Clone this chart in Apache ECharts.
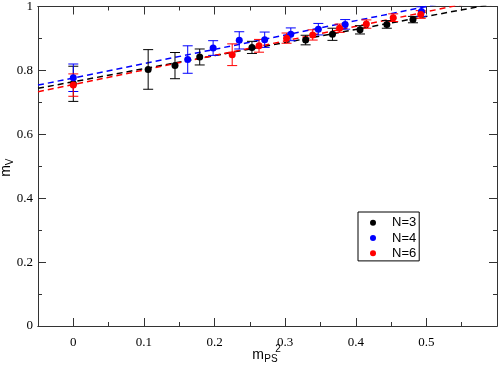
<!DOCTYPE html>
<html>
<head>
<meta charset="utf-8">
<script src="https://cdn.jsdelivr.net/npm/echarts@6/dist/echarts.min.js"></script>
<style>
  html, body { margin: 0; padding: 0; background: #fff; }
  #main { width: 498px; height: 365px; }
</style>
</head>
<body>
<div id="main"></div>
<script>
// m_PS^2 values, m_V values and errors for each N
var n3X = [0, 0.106, 0.144, 0.179, 0.253, 0.329, 0.367, 0.406, 0.444, 0.481]
var n3Y = [0.758, 0.803, 0.815, 0.842, 0.872, 0.895, 0.913, 0.927, 0.944, 0.959]
var n3Err = [0.055, 0.062, 0.041, 0.025, 0.019, 0.015, 0.019, 0.013, 0.012, 0.010]

var n4X = [0, 0.162, 0.198, 0.235, 0.271, 0.308, 0.347, 0.385, 0.493]
var n4Y = [0.777, 0.834, 0.870, 0.894, 0.896, 0.913, 0.929, 0.944, 0.984]
var n4Err = [0.043, 0.043, 0.023, 0.027, 0.024, 0.020, 0.018, 0.015, 0.015]

var n6X = [0, 0.225, 0.263, 0.302, 0.339, 0.377, 0.415, 0.453, 0.492]
var n6Y = [0.754, 0.849, 0.877, 0.901, 0.911, 0.932, 0.945, 0.965, 0.975]
var n6Err = [0.035, 0.034, 0.020, 0.016, 0.016, 0.013, 0.013, 0.012, 0.012]

// linear fits, end points
var fitX = [-0.05, 0.6]
var fitN3 = [0.744, 1.010]
var fitN4 = [0.754, 1.045]
var fitN6 = [0.733, 1.029]

var xMajor = [0, 0.1, 0.2, 0.3, 0.4, 0.5]
var xMinor = [0.05, 0.15, 0.25, 0.35, 0.45, 0.55]

function pts (xs, ys) {
  return xs.map(function (x, i) { return [x, ys[i]] })
}
function bars (xs, ys, es) {
  return xs.map(function (x, i) { return [x, ys[i] - es[i], ys[i] + es[i]] })
}

function errBar (color) {
  return function (params, api) {
    var x = api.value(0)
    var top = api.coord([x, api.value(2)])
    var bot = api.coord([x, api.value(1)])
    var w = 5
    var st = { stroke: color, lineWidth: 1 }
    return {
      type: 'group',
      children: [
        { type: 'line', shape: { x1: top[0], y1: top[1], x2: bot[0], y2: bot[1] }, style: st },
        { type: 'line', shape: { x1: top[0] - w, y1: top[1], x2: top[0] + w, y2: top[1] }, style: st },
        { type: 'line', shape: { x1: bot[0] - w, y1: bot[1], x2: bot[0] + w, y2: bot[1] }, style: st }
      ]
    }
  }
}

var frame = { show: true, onZero: false, lineStyle: { color: '#333', width: 1 } }
var serif = 'Liberation Serif'

function xAx (pos, ticks, len, labels) {
  return {
    type: 'value',
    position: pos,
    min: -0.05,
    max: 0.6,
    axisLine: frame,
    axisTick: { show: true, inside: true, length: len, customValues: ticks, lineStyle: { color: '#333' } },
    axisLabel: labels
      ? { show: true, customValues: xMajor, margin: 10, color: '#000', fontFamily: serif, fontSize: 13 }
      : { show: false },
    splitLine: { show: false }
  }
}
function yAx (pos, labels) {
  return {
    type: 'value',
    position: pos,
    min: 0,
    max: 1,
    interval: 0.2,
    axisLine: frame,
    axisTick: { show: true, inside: true, length: 8, lineStyle: { color: '#333' } },
    minorTick: { show: true, splitNumber: 2, length: 4, lineStyle: { color: '#333' } },
    axisLabel: labels
      ? { show: true, margin: 5, color: '#000', fontFamily: serif, fontSize: 13 }
      : { show: false },
    splitLine: { show: false }
  }
}

function fitLine (ys, color) {
  return {
    type: 'line',
    data: pts(fitX, ys),
    showSymbol: false,
    clip: true,
    silent: true,
    lineStyle: { color: color, width: 1.5, type: [6, 4] },
    z: 2
  }
}
function errSeries (xs, ys, es, color) {
  return {
    type: 'custom',
    renderItem: errBar(color),
    data: bars(xs, ys, es),
    encode: { x: 0, y: [1, 2] },
    silent: true,
    z: 3
  }
}
function ptSeries (name, xs, ys, color) {
  return {
    name: name,
    type: 'scatter',
    data: pts(xs, ys),
    symbol: 'circle',
    symbolSize: 7,
    itemStyle: { color: color, opacity: 1 },
    z: 4
  }
}

var chart = echarts.init(document.getElementById('main'))
chart.setOption({
  animation: false,
  backgroundColor: '#fff',
  grid: { left: 38, right: 1, top: 5, bottom: 39, containLabel: false },
  xAxis: [
    xAx('bottom', xMajor, 8, true),
    xAx('bottom', xMinor, 4, false),
    xAx('top', xMajor, 8, false),
    xAx('top', xMinor, 4, false)
  ],
  yAxis: [yAx('left', true), yAx('right', false)],
  legend: {
    orient: 'vertical',
    left: 358,
    top: 212,
    data: ['N=3', 'N=4', 'N=6'],
    icon: 'circle',
    itemWidth: 6,
    itemHeight: 6,
    itemGap: 0,
    padding: [3, 3, 0, 12],
    borderColor: '#000',
    borderWidth: 1,
    textStyle: { fontFamily: 'Liberation Sans', fontSize: 13, color: '#000', lineHeight: 15.3, padding: [0, 0, 0, 11] }
  },
  graphic: [
    { type: 'text', x: 6, y: 171, rotation: Math.PI / 2, style: { text: 'm', font: '14px Liberation Sans', fill: '#000', textAlign: 'center', textVerticalAlign: 'middle' } },
    { type: 'text', x: 10, y: 162, rotation: Math.PI / 2, style: { text: 'V', font: '10px Liberation Sans', fill: '#000', textAlign: 'center', textVerticalAlign: 'middle' } },
    { type: 'text', x: 258, y: 355, style: { text: 'm', font: '14px Liberation Sans', fill: '#000', textAlign: 'center', textVerticalAlign: 'middle' } },
    { type: 'text', x: 271, y: 359, style: { text: 'PS', font: '10px Liberation Sans', fill: '#000', textAlign: 'center', textVerticalAlign: 'middle' } },
    { type: 'text', x: 278, y: 349, style: { text: '2', font: '10px Liberation Sans', fill: '#000', textAlign: 'center', textVerticalAlign: 'middle' } }
  ],
  series: [
    fitLine(fitN3, '#000000'),
    fitLine(fitN4, '#0000ff'),
    fitLine(fitN6, '#ff0000'),
    errSeries(n3X, n3Y, n3Err, '#000000'),
    ptSeries('N=3', n3X, n3Y, '#000000'),
    errSeries(n4X, n4Y, n4Err, '#0000ff'),
    ptSeries('N=4', n4X, n4Y, '#0000ff'),
    errSeries(n6X, n6Y, n6Err, '#ff0000'),
    ptSeries('N=6', n6X, n6Y, '#ff0000')
  ]
})
</script>
</body>
</html>
